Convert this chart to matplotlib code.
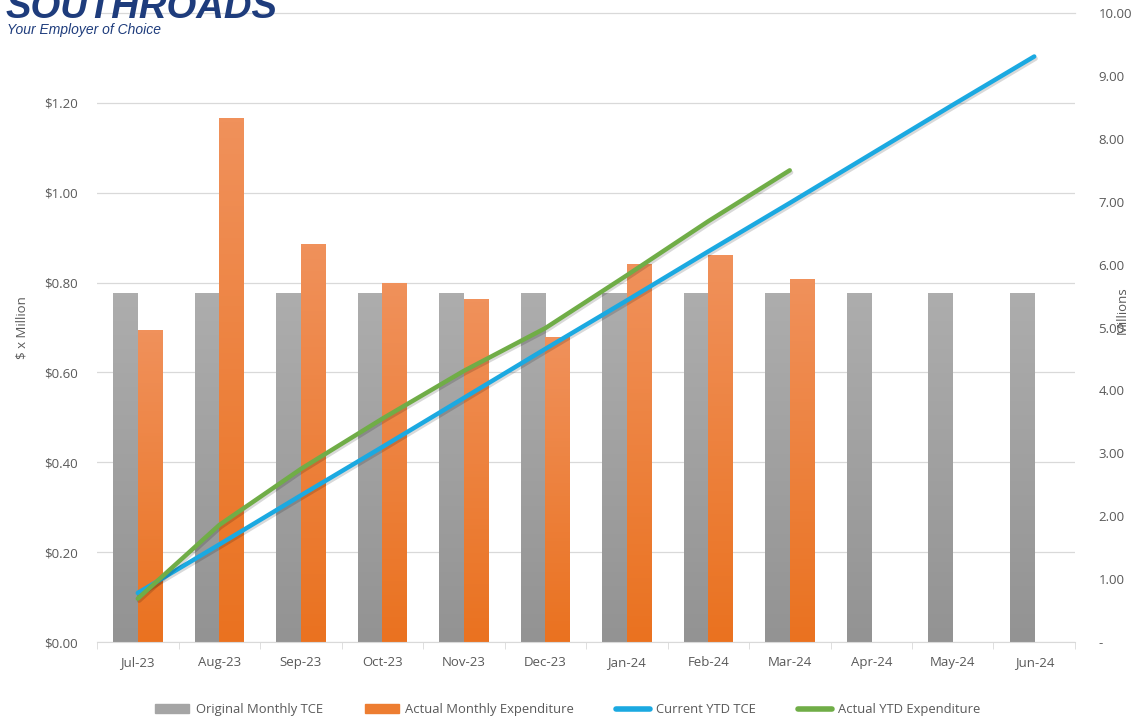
import numpy as np
import matplotlib
matplotlib.use("Agg")
import matplotlib.pyplot as plt
import matplotlib.patheffects as pe
from matplotlib.patches import Patch
from matplotlib.lines import Line2D

plt.rcParams['font.family'] = ['Open Sans', 'DejaVu Sans']

# Data
months = ["Jul-23", "Aug-23", "Sep-23", "Oct-23", "Nov-23", "Dec-23",
          "Jan-24", "Feb-24", "Mar-24", "Apr-24", "May-24", "Jun-24"]
original_tce = [0.776] * 12
actual_monthly = [0.694, 1.167, 0.887, 0.800, 0.763, 0.678, 0.841, 0.861, 0.807]
current_ytd = [0.78, 1.55, 2.33, 3.10, 3.88, 4.66, 5.43, 6.21, 6.98, 7.76, 8.54, 9.31]
actual_ytd = [0.69, 1.86, 2.75, 3.55, 4.31, 4.99, 5.83, 6.69, 7.50]

GREY = "#A5A5A5"
ORANGE = "#ED7D31"
BLUE = "#1BA9E1"
GREEN = "#70AD47"
TXT = "#595959"

fig = plt.figure(figsize=(11.36, 7.27), dpi=100)
ax = fig.add_axes([0.0854, 0.1169, 0.8609, 0.8651])
ax2 = ax.twinx()

x = np.arange(len(months))
w = 0.30
bars1 = ax.bar(x - w / 2, original_tce, width=w, color=GREY, zorder=2)
bars2 = ax.bar(x[:len(actual_monthly)] + w / 2, actual_monthly, width=w, color=ORANGE, zorder=2)


# subtle vertical gradient on bars (lighter at top)
def shade(bars, top, bottom):
    cmap = matplotlib.colors.LinearSegmentedColormap.from_list("g", [bottom, top])
    grad = np.linspace(0, 1, 100).reshape(-1, 1)
    for b in bars:
        x0, y0 = b.get_x(), b.get_y()
        im = ax.imshow(grad, cmap=cmap, origin="lower", aspect="auto",
                       extent=[x0, x0 + b.get_width(), y0, y0 + b.get_height()], zorder=2.1)
        im.set_clip_path(b)


shade(bars1, "#ADADAD", "#939393")
shade(bars2, "#F0915B", "#EA7220")

ax.set_xlim(-0.5, len(months) - 0.5)
ax.set_ylim(0, 1.40)
ax.set_yticks(np.arange(0, 1.21, 0.2))
ax.set_yticklabels([f"${v:.2f}" for v in np.arange(0, 1.21, 0.2)])
ax.yaxis.grid(True, color="#D9D9D9", linewidth=0.9, zorder=0)
ax.set_axisbelow(True)
# top gridline at 1.40 (unlabelled)
ax.axhline(1.40, color="#D9D9D9", linewidth=0.9, zorder=0, clip_on=False)

ax.set_xticks(x)
ax.set_xticklabels(months)
ax.set_xticks(np.arange(-0.5, len(months)), minor=True)
ax.tick_params(axis="x", which="major", length=0, pad=10, labelsize=9.5, labelcolor=TXT)
ax.tick_params(axis="x", which="minor", length=5, color="#D9D9D9")
ax.tick_params(axis="y", length=0, labelsize=9.5, labelcolor=TXT, pad=14)
for s in ["top", "right", "left"]:
    ax.spines[s].set_visible(False)
ax.spines["bottom"].set_color("#D9D9D9")
ax.set_ylabel("$ x Million", color=TXT, fontsize=9.5, labelpad=11)

# secondary axis with YTD lines
shadow = [pe.SimpleLineShadow(offset=(1, -1.5), alpha=0.15), pe.Normal()]
ax2.plot(x, current_ytd, color=BLUE, linewidth=3.2, solid_capstyle="round",
         path_effects=shadow, zorder=3)
ax2.plot(x[:len(actual_ytd)], actual_ytd, color=GREEN, linewidth=3.2,
         solid_capstyle="round", path_effects=shadow, zorder=4)
ax2.set_ylim(0, 10)
ax2.set_yticks(np.arange(0, 11, 1))
ax2.set_yticklabels(["-"] + [f"{v:.2f}" for v in range(1, 11)])
ax2.tick_params(axis="y", length=0, labelsize=9.5, labelcolor=TXT, pad=17)
for s in ax2.spines.values():
    s.set_visible(False)
ax.set_zorder(1)
ax2.set_zorder(2)
ax2.patch.set_visible(False)
fig.text(0.9875, 0.573, "Millions", rotation=90, color=TXT, fontsize=9.5,
         ha="center", va="center")

# logo, cropped at the top edge
fig.text(0.005, 0.975, "SOUTHROADS", family="Liberation Sans", weight="bold",
         style="italic", fontsize=27.5, color="#1E3C7C", va="baseline")
fig.text(0.006, 0.9535, "Your Employer of Choice", family="Liberation Sans",
         style="italic", fontsize=10, color="#1E3C7C", va="baseline")

handles = [Patch(color=GREY), Patch(color=ORANGE),
           Line2D([], [], color=BLUE, linewidth=4, solid_capstyle="round"),
           Line2D([], [], color=GREEN, linewidth=4, solid_capstyle="round")]
labels = ["Original Monthly TCE", "Actual Monthly Expenditure", "Current YTD TCE", "Actual YTD Expenditure"]
leg = fig.legend(handles, labels, loc="center", bbox_to_anchor=(0.5, 0.024), ncol=4,
                 frameon=False, fontsize=9.4, handlelength=2.6, handleheight=0.6,
                 columnspacing=3.2, handletextpad=0.5)
for t in leg.get_texts():
    t.set_color(TXT)

fig.savefig("out.png", dpi=100)
